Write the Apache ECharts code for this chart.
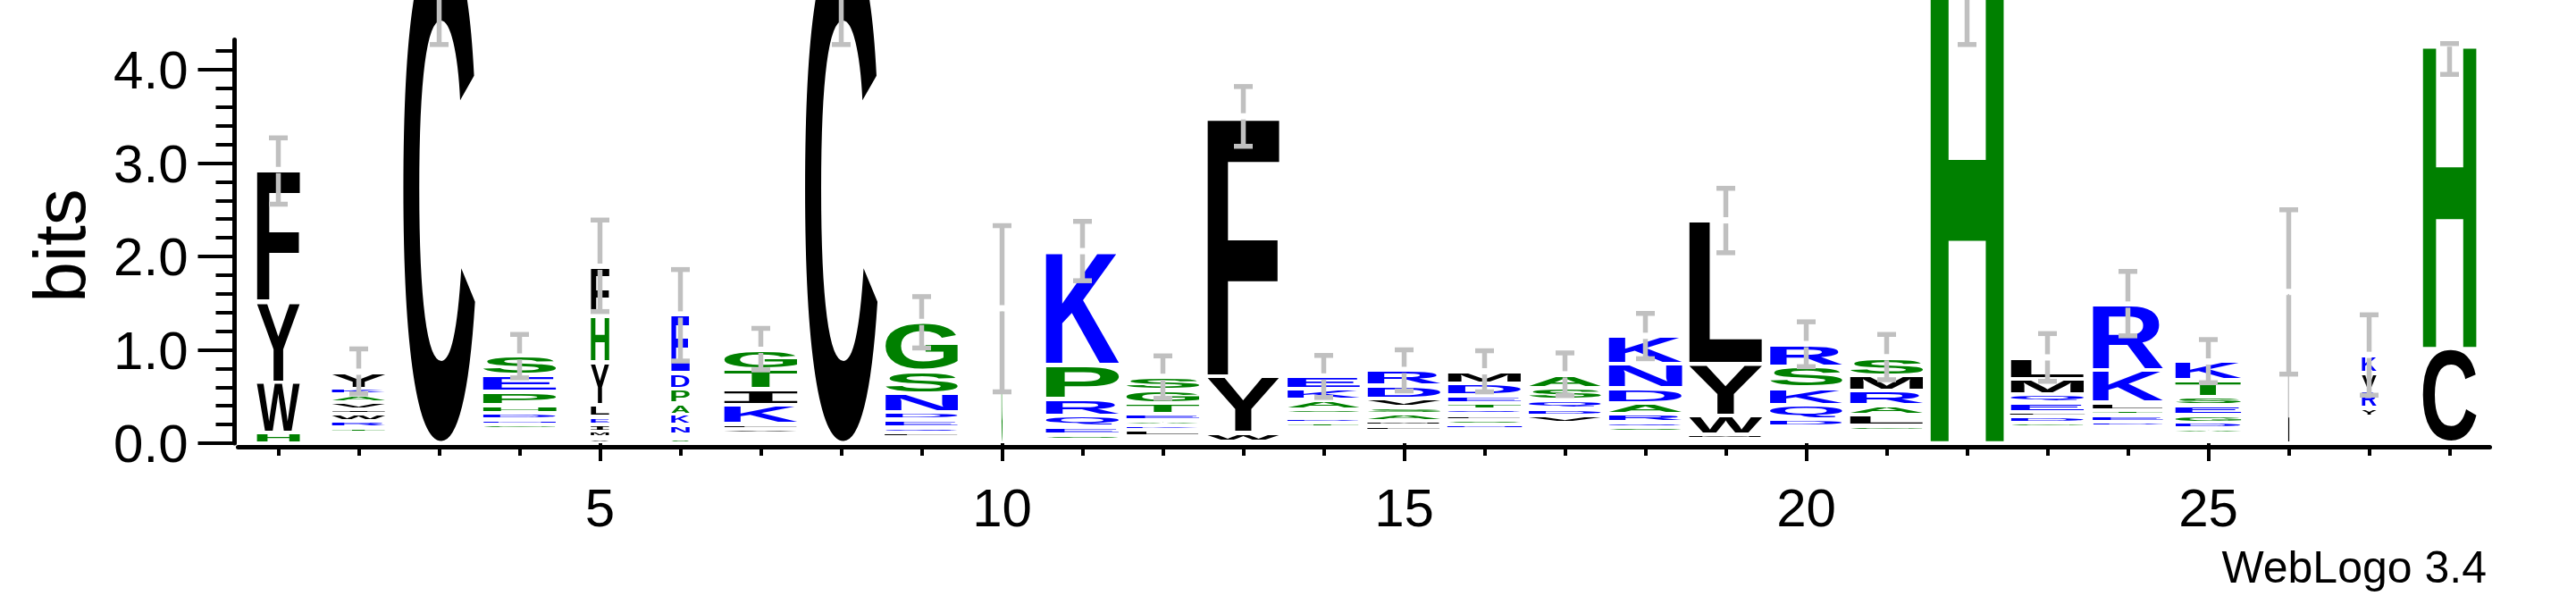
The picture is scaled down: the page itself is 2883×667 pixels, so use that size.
<!DOCTYPE html>
<html><head><meta charset="utf-8">
<script src="https://cdn.jsdelivr.net/npm/echarts@6/dist/echarts.min.js"></script>
<style>html,body{margin:0;padding:0;background:#fff}#c{width:2883px;height:667px}</style>
</head><body><div id="c"></div>
<script>
// ---------------- data ----------------
const positions = [1,2,3,4,5,6,7,8,9,10,11,12,13,14,15,16,17,18,19,20,21,22,23,24,25,26,27,28];
const occupancy = [0.585,0.73,0.98,1,0.25,0.25,1,0.99,0.99,0.015,1,1,0.98,0.99,1,1,0.99,1,1,0.99,1,1,1,0.96,0.9,0.015,0.2,0.73];
// letters of each stack, from bottom to top
const stackLetters = [
  "HWYF","SGNQMDTRWIVAKY","C","WMCFYIQGNDHPES","VMIELYHF","SLNKAPDE","YFSREVLKITG","C",
  "FWMVLQEDNSG","G","ADSEQRPK","QNRDLKAETGS","CWYF","YFMILCWRTDGSAKE","YFCWKENQLMASVDR",
  "YFWIKGNSLQTEDM","YFWIMKERNLVDQSA","YVGESQRADNK","VMWYL","YFWIMLVTGDQKSR","YFWIKENGLARMS",
  "H","YWIVKNRTGDFEQML","YFWIVGSDETLKR","YFWIVADGESTK","L","GSMTQWAYRVK","CH"
];
const stackBits = [
  [0.11,0.54,0.866,1.41],
  [0.014,0.014,0.013,0.013,0.012,0.045,0.06,0.065,0.075,0.05,0.075,0.085,0.065,0.18],
  [5.42],
  [0.02,0.02,0.02,0.02,0.02,0.025,0.025,0.053,0.053,0.067,0.085,0.14,0.18,0.2],
  [0.06,0.065,0.075,0.08,0.13,0.46,0.5,0.52],
  [0.048,0.043,0.105,0.11,0.12,0.158,0.165,0.63],
  [0.02,0.02,0.02,0.02,0.02,0.05,0.06,0.2,0.17,0.21,0.21],
  [5.42],
  [0.015,0.015,0.016,0.016,0.048,0.062,0.08,0.077,0.2,0.244,0.526],
  [1.445],
  [0.02,0.02,0.057,0.081,0.12,0.18,0.364,1.215],
  [0.02,0.02,0.02,0.017,0.062,0.053,0.057,0.067,0.115,0.14,0.14],
  [0.02,0.096,0.6,2.785],
  [0.02,0.02,0.02,0.02,0.02,0.02,0.02,0.026,0.05,0.05,0.045,0.05,0.105,0.115,0.134],
  [0.017,0.017,0.017,0.017,0.017,0.017,0.017,0.017,0.05,0.05,0.08,0.072,0.086,0.144,0.167],
  [0.021,0.021,0.021,0.021,0.021,0.045,0.048,0.053,0.057,0.053,0.072,0.077,0.13,0.13],
  [0.019,0.019,0.019,0.019,0.019,0.019,0.019,0.019,0.019,0.043,0.08,0.072,0.096,0.13,0.146],
  [0.015,0.015,0.045,0.045,0.05,0.053,0.086,0.12,0.158,0.263,0.3],
  [0.046,0.05,0.196,0.555,1.54],
  [0.0197,0.0197,0.0197,0.0197,0.0197,0.0197,0.0197,0.0197,0.0197,0.081,0.153,0.182,0.225,0.244],
  [0.019,0.019,0.019,0.019,0.019,0.019,0.019,0.053,0.12,0.105,0.148,0.163,0.199],
  [5.1],
  [0.021,0.021,0.021,0.021,0.021,0.021,0.021,0.021,0.053,0.067,0.048,0.1,0.09,0.163,0.23],
  [0.019,0.019,0.019,0.019,0.019,0.042,0.04,0.053,0.072,0.053,0.081,0.344,0.705],
  [0.021,0.021,0.021,0.021,0.021,0.053,0.062,0.08,0.105,0.09,0.18,0.2],
  [1.62],
  [0.04,0.04,0.04,0.04,0.04,0.04,0.04,0.096,0.19,0.19,0.19],
  [1.01,3.27]
];
const errLow  = [2.56,0.53,4.27,0.70,1.41,0.88,0.785,4.27,1.02,0.55,1.74,0.48,3.18,0.49,0.56,0.55,0.51,0.905,2.04,0.82,0.68,4.27,0.663,1.15,0.648,0.74,0.514,3.95];
const errHigh = [3.27,1.01,6.6,1.165,2.39,1.86,1.23,6.6,1.57,2.33,2.376,0.935,3.82,0.94,1.0,0.99,0.967,1.39,2.73,1.3,1.165,6.6,1.174,1.84,1.11,2.5,1.375,4.28];
const xTickValues = positions;
const xLabelValues = [5,10,15,20,25];
const yLabelValues = [0,1,2,3,4];
const yMinorValues = [0.2,0.4,0.6,0.8,1.2,1.4,1.6,1.8,2.2,2.4,2.6,2.8,3.2,3.4,3.6,3.8,4.2];
const hydrophilic = "RKDENQ", neutral = "SGHTAP", hydrophobic = "YVMCLFIW";

// ---------------- styling ----------------
const COLORS = {hydrophilic:'#0000ff', neutral:'#008000', hydrophobic:'#000000'};
function colorOf(ch){
  if (hydrophilic.includes(ch)) return COLORS.hydrophilic;
  if (neutral.includes(ch)) return COLORS.neutral;
  return COLORS.hydrophobic;
}
const STACK_W = 0.911;     // full stack width in position units
const GAP = 2.25;          // px trimmed from each glyph top/bottom
const FS = 200;
const EB_COLOR = '#c0c0c0';
const EB_GAP = 3.5, EB_CAP = 21, EB_W = 5.5;
const YMAX = 4.3219;

const mctx = document.createElement('canvas').getContext('2d');
const mcache = {};
function glyphFont(ch){ return ch === 'I' ? 'bold ' + FS + 'px "Liberation Mono"' : 'bold ' + FS + 'px "Liberation Sans"'; }
function glyphMetrics(ch){
  if (!mcache[ch]) {
    mctx.font = glyphFont(ch);
    mctx.textBaseline = 'middle';
    mctx.textAlign = 'left';
    const m = mctx.measureText(ch);
    mcache[ch] = {l:m.actualBoundingBoxLeft, r:m.actualBoundingBoxRight, a:m.actualBoundingBoxAscent, d:m.actualBoundingBoxDescent};
  }
  return mcache[ch];
}

// flatten letters into items
const letterItems = [];
const letterChars = [];
const stackTops = [];
positions.forEach((p, i) => {
  let y0 = 0;
  const chars = stackLetters[i];
  for (let k = 0; k < chars.length; k++) {
    const h = stackBits[i][k];
    letterItems.push([p, y0, h, occupancy[i], letterChars.length]);
    letterChars.push(chars[k]);
    y0 += h;
  }
  stackTops.push(y0);
});
const errItems = positions.map((p, i) => [p, stackTops[i], errLow[i], errHigh[i]]);

const chart = echarts.init(document.getElementById('c'), null, {renderer:'canvas'});
const FONT_FAMILY = '"Liberation Sans", Arial, sans-serif';
const labelFont = {fontFamily:FONT_FAMILY, fontSize:60, color:'#000'};

chart.setOption({
  animation:false,
  backgroundColor:'#fff',
  grid:{left:266.5, right:96.5, top:44.4, bottom:171, containLabel:false},
  xAxis:[
    {type:'value', min:0.5, max:28.5, position:'bottom', offset:4,
     axisLine:{show:true, onZero:false, lineStyle:{color:'#000', width:5}},
     axisTick:{show:true, customValues:xTickValues, length:10, lineStyle:{color:'#000', width:4}},
     axisLabel:Object.assign({show:true, customValues:xLabelValues, margin:42}, labelFont),
     splitLine:{show:false}},
    {type:'value', min:0.5, max:28.5, position:'bottom', offset:4,
     axisLine:{show:false},
     axisTick:{show:true, customValues:xLabelValues, length:20, lineStyle:{color:'#000', width:4}},
     axisLabel:{show:false}, splitLine:{show:false}}
  ],
  yAxis:[
    {type:'value', min:0, max:YMAX, position:'left', offset:4,
     axisLine:{show:true, onZero:false, lineStyle:{color:'#000', width:5}},
     axisTick:{show:true, customValues:yLabelValues, length:41, lineStyle:{color:'#000', width:4}},
     axisLabel:Object.assign({show:true, customValues:yLabelValues, margin:52,
       formatter:v => '{t|' + Number(v).toFixed(1) + '}',
       rich:{t:{fontFamily:FONT_FAMILY, fontSize:60, color:'#000', padding:[9,0,0,0]}}}, labelFont),
     splitLine:{show:false}},
    {type:'value', min:0, max:YMAX, position:'left', offset:4,
     axisLine:{show:false},
     axisTick:{show:true, customValues:yMinorValues, length:21, lineStyle:{color:'#000', width:4}},
     axisLabel:{show:false}, splitLine:{show:false}}
  ],
  graphic:[
    {type:'text', x:72, y:275, rotation:Math.PI/2,
     style:{text:'bits', font:'82px "Liberation Sans"', fill:'#000', align:'center', verticalAlign:'middle'}},
    {type:'text', x:2783, y:638,
     style:{text:'WebLogo 3.4', font:'50px "Liberation Sans"', fill:'#000', align:'right', verticalAlign:'middle'}}
  ],
  series:[
    {type:'custom', xAxisIndex:0, yAxisIndex:0, clip:false, data:letterItems,
     renderItem:function(params, api){
       const p = api.value(0), y0 = api.value(1), h = api.value(2), occ = api.value(3), li = api.value(4);
       const ch = letterChars[li];
       const half = occ * STACK_W / 2;
       const bl = api.coord([p - half, y0]);
       const tr = api.coord([p + half, y0 + h]);
       const boxW = tr[0] - bl[0];
       const top = tr[1] + GAP, bot = bl[1] - GAP;
       const inkH = bot - top;
       if (inkH < 0.4 || boxW <= 0) return null;
       const m = glyphMetrics(ch);
       const sx = boxW / (m.l + m.r), sy = inkH / (m.a + m.d);
       return {type:'text', x: bl[0] + m.l * sx, y: top + m.a * sy, scaleX: sx, scaleY: sy,
               style:{text:ch, x:0, y:0, font:glyphFont(ch), fill:colorOf(ch), align:'left', verticalAlign:'middle'}};
     }},
    {type:'custom', xAxisIndex:0, yAxisIndex:0, clip:false, data:errItems, z:5,
     renderItem:function(params, api){
       const p = api.value(0), t = api.value(1), lo = api.value(2), hi = api.value(3);
       const c = api.coord([p, t]), cl = api.coord([p, lo]), chp = api.coord([p, hi]);
       const st = {stroke:EB_COLOR, lineWidth:EB_W, lineCap:'butt'};
       const kids = [];
       if (chp[1] < c[1] - EB_GAP) kids.push({type:'line', shape:{x1:c[0], y1:c[1] - EB_GAP, x2:c[0], y2:chp[1]}, style:st});
       kids.push({type:'line', shape:{x1:c[0] - EB_CAP/2, y1:chp[1], x2:c[0] + EB_CAP/2, y2:chp[1]}, style:st});
       if (cl[1] > c[1] + EB_GAP) kids.push({type:'line', shape:{x1:c[0], y1:c[1] + EB_GAP, x2:c[0], y2:cl[1]}, style:st});
       kids.push({type:'line', shape:{x1:c[0] - EB_CAP/2, y1:cl[1], x2:c[0] + EB_CAP/2, y2:cl[1]}, style:st});
       return {type:'group', children:kids};
     }}
  ]
});
</script>
</body></html>
